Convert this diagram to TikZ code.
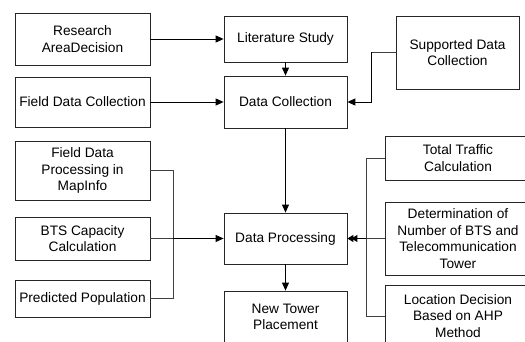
\documentclass[tikz,border=0pt]{standalone}
\usepackage{fontspec}
\setmainfont{Liberation Sans}
\usetikzlibrary{arrows.meta}
\begin{document}
\begin{tikzpicture}[x=1pt,y=-1pt,
  box/.style={draw=black!85,line width=0.8pt,align=center,inner sep=0pt,
    font=\fontsize{13.7}{16.7}\selectfont},
  feed/.style={draw=black!75,line width=0.9pt},
  arr/.style={draw=black,line width=0.9pt,-{Triangle[length=8pt,width=7pt]}},
  darr/.style={draw=black,line width=0.9pt,-{Triangle[length=6pt,width=7pt,sep=-2pt]Triangle[length=6pt,width=7pt]}}]
\useasboundingbox (0,0) rectangle (525,342);
\clip (0,0) rectangle (525,342);
% left column
\node[box,minimum width=135pt,minimum height=52pt] (rad) at (82.5,39) {Research\\AreaDecision};
\node[box,minimum width=135pt,minimum height=50pt] (fdc) at (82.5,102) {Field Data Collection};
\node[box,minimum width=135pt,minimum height=59pt] (fdp) at (82.5,170.5) {Field Data\\Processing in\\MapInfo};
\node[box,minimum width=135pt,minimum height=43pt] (bts) at (82.5,238.5) {BTS Capacity\\Calculation};
\node[box,minimum width=135pt,minimum height=37pt] (pp) at (82.5,298.5) {Predicted Population};
% centre column
\node[box,minimum width=123pt,minimum height=46pt] (ls) at (285.5,39) {Literature Study};
\node[box,minimum width=123pt,minimum height=52pt] (dc) at (285.5,102) {Data Collection};
\node[box,minimum width=123pt,minimum height=51pt] (dp) at (285.5,238.5) {Data Processing};
\node[box,minimum width=123pt,minimum height=52pt] (nt) at (285.5,317) {New Tower\\Placement};
% right column
\node[box,minimum width=123pt,minimum height=73pt] (sdc) at (457.5,52.5) {Supported Data\\Collection};
\node[box,minimum width=146pt,minimum height=44pt] (tt) at (458,158) {Total Traffic\\Calculation};
\node[box,minimum width=146pt,minimum height=73pt] (det) at (458,238.5) {Determination of\\Number of BTS and\\Telecommunication\\Tower};
\node[box,minimum width=146pt,minimum height=62pt] (loc) at (458,316) {Location Decision\\Based on AHP\\Method};
% buses
\coordinate (lb) at (173,238.5);
\coordinate (rb) at (366,238.5);
% connectors
\draw[arr] (rad.east) -- (ls.west);
\draw[arr] (fdc.east) -- (dc.west);
\draw[arr] (ls.south) -- (dc.north);
\draw[feed] (sdc.west) -- ++(-24,0) coordinate (sb);
\draw[arr] (sb) |- (dc.east);
\draw[arr] (dc.south) -- (dp.north);
\draw[arr] (dp.south) -- (nt.north);
\draw[feed] (fdp.east) -| (lb);
\draw[feed] (pp.east) -| (lb);
\draw[feed] (bts.east) -- (lb);
\draw[arr] (lb) -- (dp.west);
\draw[feed] (tt.west) -| (rb);
\draw[feed] (loc.west) -| (rb);
\draw[feed] (det.west) -- (rb);
\draw[darr] (rb) -- (dp.east);
\end{tikzpicture}
\end{document}
